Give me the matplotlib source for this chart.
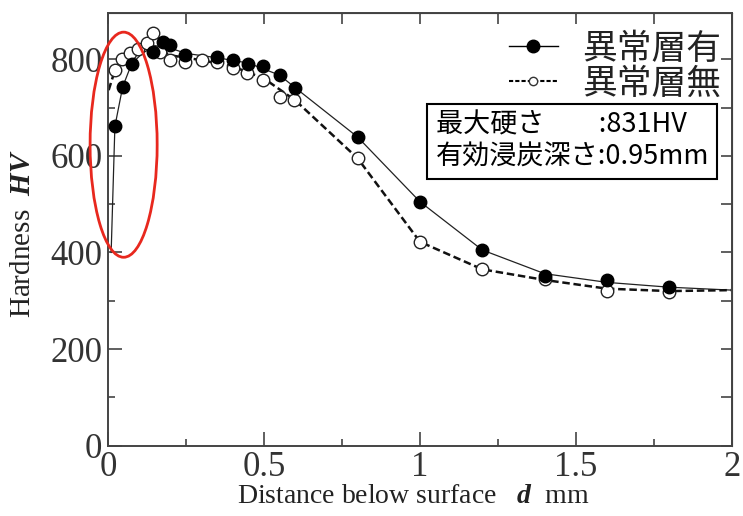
import matplotlib
matplotlib.use("Agg")
import matplotlib.pyplot as plt
from matplotlib.patches import Ellipse
from matplotlib.lines import Line2D
from matplotlib.ticker import MultipleLocator

plt.rcParams["mathtext.fontset"] = "custom"
plt.rcParams["mathtext.bfit"] = "Liberation Serif:italic:bold"
plt.rcParams["mathtext.rm"] = "Liberation Serif"

# 異常層有 (filled markers)
with_x = [0.022, 0.047, 0.076, 0.145, 0.177, 0.199, 0.247, 0.348, 0.40, 0.45,
          0.498, 0.55, 0.60, 0.80, 1.00, 1.20, 1.40, 1.60, 1.80]
with_y = [661, 743, 791, 815, 836, 829, 808, 805, 798, 791,
          786, 767, 741, 639, 505, 405, 351, 343, 328]
# curve for 異常層有 (starts at the surface, ends at the right edge)
with_line_x = [0.01, 0.022, 0.047, 0.076, 0.11, 0.15, 0.19, 0.25, 0.35, 0.45,
               0.55, 0.60, 0.80, 1.00, 1.20, 1.40, 1.60, 1.80, 2.00]
with_line_y = [400, 661, 743, 791, 812, 828, 825, 812, 803, 792,
               767, 741, 639, 505, 405, 356, 338, 328, 322]

# 異常層無 (open markers)
without_x = [0.022, 0.044, 0.071, 0.097, 0.124, 0.143, 0.167, 0.199, 0.247, 0.30,
             0.348, 0.40, 0.446, 0.498, 0.55, 0.596, 0.80, 1.00, 1.20, 1.40, 1.60, 1.80]
without_y = [777, 801, 812, 822, 833, 855, 815, 798, 795, 798,
             795, 781, 772, 757, 722, 715, 595, 422, 365, 346, 321, 319]
without_line_x = [0.002, 0.022, 0.044, 0.071, 0.097, 0.124, 0.16, 0.20, 0.30, 0.40,
                  0.50, 0.60, 0.80, 1.00, 1.20, 1.40, 1.60, 1.80, 2.00]
without_line_y = [736, 777, 801, 812, 822, 830, 822, 808, 798, 785,
                  760, 715, 595, 422, 365, 343, 325, 320, 322]

x_ticks = [0, 0.5, 1, 1.5, 2]
x_tick_labels = ["0", "0.5", "1", "1.5", "2"]
y_ticks = [0, 200, 400, 600, 800]

legend_labels = ["異常層有", "異常層無"]
info_text = "最大硬さ　　:831HV\n有効浸炭深さ:0.95mm"

serif = ["Liberation Serif", "DejaVu Serif"]
jp = ["Noto Sans CJK JP", "DejaVu Sans"]
grey = "#333333"

fig = plt.figure(figsize=(7.43, 5.16), dpi=100)
ax = fig.add_axes([0.1454, 0.1363, 0.8396, 0.8379])

ax.plot(with_line_x, with_line_y, color="#222222", lw=0.9, zorder=2)
ax.plot(without_line_x, without_line_y, color="#111111", lw=1.8,
        linestyle=(0, (3, 1.5)), zorder=2)
ax.plot(with_x, with_y, "o", ms=9, color="black", zorder=4)
ax.plot(without_x, without_y, "o", ms=9, mfc="white", mec="#222222",
        mew=1.0, zorder=3)

ax.set_xlim(0, 2)
ax.set_ylim(0, 895)
ax.set_xticks(x_ticks)
ax.set_xticklabels(x_tick_labels)
ax.set_yticks(y_ticks)
ax.xaxis.set_minor_locator(MultipleLocator(0.25))
ax.yaxis.set_minor_locator(MultipleLocator(100))
ax.tick_params(which="major", direction="in", length=10, width=1.2,
               color="#444444", labelsize=25, labelcolor=grey, pad=4)
ax.tick_params(which="minor", direction="in", length=5, width=1.2,
               color="#444444")
for lab in ax.get_xticklabels() + ax.get_yticklabels():
    lab.set_family(serif)
for s in ax.spines.values():
    s.set_color("#444444")
    s.set_linewidth(1.4)

top = ax.secondary_xaxis("top")
top.set_xticks([0.25 * i for i in range(9)])
top.tick_params(direction="in", length=8, width=1.2, color="#444444",
                labeltop=False)
right = ax.secondary_yaxis("right")
right.set_yticks([100 * i for i in range(9)])
right.tick_params(direction="in", length=8, width=1.2, color="#444444",
                  labelright=False)

fig.text(0.556, 0.037, r"Distance below surface   $\mathbfit{d}$  mm",
         ha="center", va="center", fontsize=20, family=serif, color="#222222")
fig.text(0.031, 0.548, r"Hardness  $\mathbfit{HV}$", rotation=90,
         ha="center", va="center", fontsize=21, family=serif, color="#222222")

handles = [
    Line2D([], [], color="black", lw=1.0, marker="o", ms=9, mfc="black"),
    Line2D([], [], color="black", lw=1.5, linestyle=(0, (2, 1)), marker="o",
           ms=6, mfc="white", mec="#333333"),
]
ax.legend(handles, legend_labels, loc="upper right",
          bbox_to_anchor=(1.005, 0.99), frameon=False, handlelength=1.4,
          handletextpad=0.7, labelspacing=0.0, borderaxespad=0.0,
          prop={"family": jp, "size": 25}, labelcolor="#222222")

ax.text(0.525, 0.772, info_text, transform=ax.transAxes, ha="left", va="top",
        fontsize=19.5, family=jp, color="black", linespacing=1.25,
        bbox=dict(boxstyle="square,pad=0.3", fc="white", ec="black", lw=1.5))

ax.add_patch(Ellipse((0.05, 623), 0.215, 466, fill=False, ec="#e8281e",
                     lw=2.0, clip_on=False, zorder=5))

fig.savefig("out.png", dpi=100)
